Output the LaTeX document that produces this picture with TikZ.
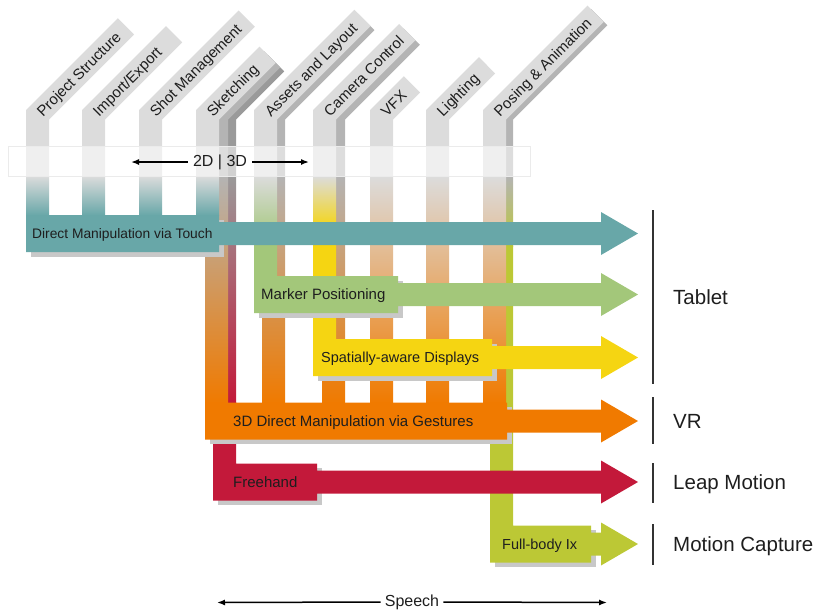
\documentclass[tikz,border=0pt]{standalone}
\usepackage{fontspec}
\setmainfont{Liberation Sans}
\usepackage{xcolor}
\usepackage{tikz}
\usetikzlibrary{arrows.meta,positioning,calc}

\definecolor{bandgray}{HTML}{DCDCDC}
\definecolor{backgray}{HTML}{B4B4B4}
\definecolor{deepgray}{HTML}{9A9A9A}
\definecolor{shadowgray}{HTML}{C8C8C8}
\definecolor{inkgray}{HTML}{1E1E1E}
\definecolor{touchteal}{HTML}{68A7A8}
\definecolor{markergreen}{HTML}{A3C77A}
\definecolor{displayyellow}{HTML}{F5D512}
\definecolor{gestureorange}{HTML}{F07A00}
\definecolor{freehandred}{HTML}{C3193A}
\definecolor{bodygreen}{HTML}{BCC835}

\begin{document}
\begin{tikzpicture}[x=1pt,y=-1pt,every node/.style={text=inkgray,inner sep=0pt},
  tasklabel/.style={font=\fontsize{15}{18}\selectfont,rotate=45,anchor=base west},
  barlabel/.style={font=\fontsize{15}{18}\selectfont,anchor=base west},
  devlabel/.style={font=\fontsize{20.5}{24}\selectfont,anchor=base west},
  axislabel/.style={font=\fontsize{16}{19}\selectfont,inner xsep=5pt},
  axisarrow/.style={line width=1.5pt,-{Latex[length=8pt,width=6pt]}},
  sepline/.style={line width=1.1pt,draw=black!80},
  boxshadow/.style={fill=shadowgray}]

\useasboundingbox (0,0) rectangle (814,614);

% Full-body interaction - behind everything
\fill[backgray] (490,176.5) -- (490,110) -- (591.1,8.9) -- (607.3,25.2) -- (513,119.5) -- (513,176.5) -- cycle;
\shade[top color=backgray,bottom color=bodygreen] (490,176) rectangle (513,246);
\fill[boxshadow] (494.5,530) rectangle (595.5,567);
\fill[bodygreen] (490,245.5) -- (513,245.5) -- (513,525.5) -- (591,525.5) -- (591,532.5) -- (601,532.5) -- (601,522.5)
  -- (638,544) -- (601,565.5) -- (601,555.5) -- (591,555.5) -- (591,562.5) -- (490,562.5) -- cycle;

% Freehand
\fill[deepgray] (213,176.5) -- (213,110) -- (268.0,55.0) -- (284.2,71.3) -- (236,119.5) -- (236,176.5) -- cycle;
\shade[top color=deepgray,bottom color=freehandred] (213,176) rectangle (236,403);
\fill[boxshadow] (217.5,468) rectangle (321.5,505);
\fill[freehandred] (213,402) -- (236,402) -- (236,463.5) -- (317,463.5) -- (317,470.5) -- (601,470.5) -- (601,460.5)
  -- (638,482) -- (601,503.5) -- (601,493.5) -- (317,493.5) -- (317,500.5) -- (213,500.5) -- cycle;

% 3D gestures - back layers under sketching, assets, camera
\fill[backgray] (205,176.5) -- (205,110) -- (264.0,51.0) -- (280.2,67.3) -- (228,119.5) -- (228,176.5) -- cycle;
\fill[backgray] (262,176.5) -- (262,110) -- (358.2,13.8) -- (374.4,30.1) -- (285,119.5) -- (285,176.5) -- cycle;
\fill[backgray] (322,176.5) -- (322,110) -- (403.6,28.4) -- (419.8,44.7) -- (345,119.5) -- (345,176.5) -- cycle;
% 3D gestures - own columns: vfx, lighting, posing
\fill[bandgray] (370,176.5) -- (370,110) -- (403.8,76.2) -- (420.0,92.5) -- (393,119.5) -- (393,176.5) -- cycle;
\fill[bandgray] (426,176.5) -- (426,110) -- (478.9,57.1) -- (495.1,73.4) -- (449,119.5) -- (449,176.5) -- cycle;
\fill[bandgray] (483,176.5) -- (483,110) -- (587.5,5.5) -- (603.7,21.8) -- (506,119.5) -- (506,176.5) -- cycle;
\shade[top color=backgray,bottom color=gestureorange] (205,176) rectangle (228,403) (262,176) rectangle (285,403)
  (322,176) rectangle (345,403);
\shade[top color=bandgray,bottom color=gestureorange] (370,176) rectangle (393,403) (426,176) rectangle (449,403)
  (483,176) rectangle (506,403);
\fill[boxshadow] (209.5,407) rectangle (511.5,444);
\fill[gestureorange] (205,402.5) -- (507,402.5) -- (507,409.5) -- (601,409.5) -- (601,399.5) -- (638,421)
  -- (601,442.5) -- (601,432.5) -- (507,432.5) -- (507,439.5) -- (205,439.5) -- cycle;

% Spatially-aware displays
\fill[bandgray] (313,176.5) -- (313,110) -- (399.1,23.9) -- (415.3,40.2) -- (336,119.5) -- (336,176.5) -- cycle;
\shade[top color=bandgray,bottom color=displayyellow] (313,176) rectangle (336,228);
\fill[boxshadow] (317.5,343.5) rectangle (496.5,380.5);
\fill[displayyellow] (313,227.5) -- (336,227.5) -- (336,339) -- (492,339) -- (492,346) -- (601,346) -- (601,336)
  -- (638,357.5) -- (601,379) -- (601,369) -- (492,369) -- (492,376) -- (313,376) -- cycle;

% Marker positioning
\fill[bandgray] (254,176.5) -- (254,110) -- (354.3,9.7) -- (370.5,26.0) -- (277,119.5) -- (277,176.5) -- cycle;
\shade[top color=bandgray,bottom color=markergreen] (254,176) rectangle (277,240);
\fill[boxshadow] (258.5,280.5) rectangle (402.5,317.5);
\fill[markergreen] (254,239.5) -- (277,239.5) -- (277,276) -- (398,276) -- (398,283) -- (601,283) -- (601,273)
  -- (638,294.5) -- (601,316) -- (601,306) -- (398,306) -- (398,313) -- (254,313) -- cycle;

% Direct manipulation via touch - in front
\fill[bandgray] (26,176.5) -- (26,110) -- (117.8,18.2) -- (134.0,34.5) -- (49,119.5) -- (49,176.5) -- cycle;
\fill[bandgray] (82,176.5) -- (82,110) -- (166.0,26.0) -- (182.2,42.3) -- (105,119.5) -- (105,176.5) -- cycle;
\fill[bandgray] (139,176.5) -- (139,110) -- (238.6,10.4) -- (254.8,26.7) -- (162,119.5) -- (162,176.5) -- cycle;
\fill[bandgray] (196,176.5) -- (196,110) -- (259.5,46.5) -- (275.7,62.8) -- (219,119.5) -- (219,176.5) -- cycle;
\shade[top color=bandgray,bottom color=touchteal] (26,176) rectangle (49,215.5) (82,176) rectangle (105,215.5)
  (139,176) rectangle (162,215.5) (196,176) rectangle (219,215.5);
\fill[boxshadow] (30.5,219.5) rectangle (223.5,256.5);
\fill[touchteal] (26,215) -- (219,215) -- (219,222) -- (601,222) -- (601,212) -- (638,233.5) -- (601,255)
  -- (601,245) -- (219,245) -- (219,252) -- (26,252) -- cycle;

% 2D | 3D strip
\fill[white,fill opacity=0.55,draw=black!8,line width=0.6pt] (8,146.5) rectangle (530,176.5);
\node[axislabel] (dimension) at (220,162) {2D | 3D};
\coordinate (dimleft) at (131,162);
\coordinate (dimright) at (309,162);
\draw[axisarrow] (dimension.west) -- (dimleft);
\draw[axisarrow] (dimension.east) -- (dimright);

% Task labels
\node[tasklabel] (project) at (42.9,117.3) {Project Structure};
\node[tasklabel] (import) at (98.9,117.3) {Import/Export};
\node[tasklabel] (shot) at (155.9,117.3) {Shot Management};
\node[tasklabel] (sketch) at (212.9,117.3) {Sketching};
\node[tasklabel] (assets) at (270.9,117.3) {Assets and Layout};
\node[tasklabel] (camera) at (329.9,117.3) {Camera Control};
\node[tasklabel] (vfx) at (386.9,117.3) {VFX};
\node[tasklabel] (lighting) at (442.9,117.3) {Lighting};
\node[tasklabel] (posing) at (499.9,117.3) {Posing \& Animation};

% Technique labels
\node[barlabel,font=\fontsize{13.8}{17}\selectfont] (touch) at (32,238.5) {Direct Manipulation via Touch};
\node[barlabel] (marker) at (261,299.9) {Marker Positioning};
\node[barlabel,font=\fontsize{14.5}{17}\selectfont] (display) at (321,362.7) {Spatially-aware Displays};
\node[barlabel] (gesture) at (233,426.4) {3D Direct Manipulation via Gestures};
\node[barlabel] (freehand) at (233,487.4) {Freehand};
\node[barlabel,font=\fontsize{14.5}{17}\selectfont] (fullbody) at (502,549.2) {Full-body Ix};

% Devices
\draw[sepline] (653,210) -- (653,384);
\draw[sepline] (653,397) -- (653,444);
\draw[sepline] (653,463) -- (653,503);
\draw[sepline] (653,524) -- (653,565);
\node[devlabel] (tablet) at (673,304.4) {Tablet};
\node[devlabel] (vr) at (673,428.4) {VR};
\node[devlabel] (leap) at (673,489.4) {Leap Motion};
\node[devlabel] (mocap) at (673,551) {Motion Capture};

% Speech
\node[axislabel,inner xsep=4pt] (speech) at (412,602) {Speech};
\coordinate (speechleft) at (217,602.5);
\coordinate (speechright) at (607,602.5);
\draw[axisarrow] (speech.west) -- (speechleft);
\draw[axisarrow] (speech.east) -- (speechright);

\end{tikzpicture}
\end{document}
